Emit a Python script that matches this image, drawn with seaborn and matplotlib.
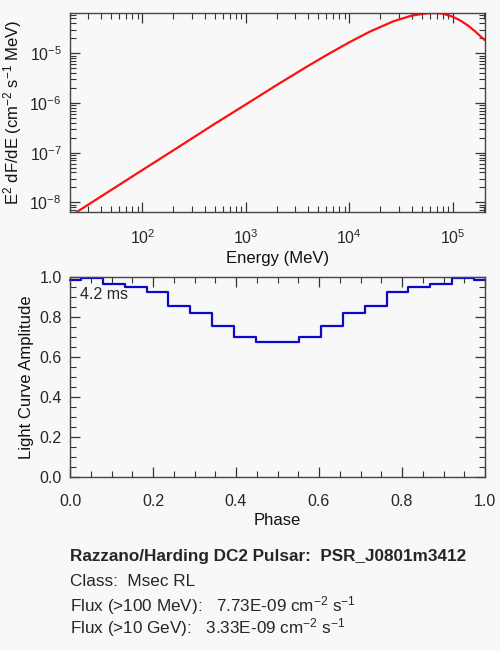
import matplotlib
matplotlib.use("Agg")
import matplotlib.pyplot as plt
import seaborn as sns
import pandas as pd
from matplotlib.ticker import MultipleLocator, LogLocator, NullFormatter

# spectrum
energy = [20, 50, 100, 200, 500, 1000, 2000, 4000, 6000, 1.0e4, 1.58e4,
          2.67e4, 4.0e4, 5.0e4, 6.0e4, 7.0e4, 8.0e4, 1.0e5, 1.17e5, 1.4e5,
          1.64e5, 2.05e5]
e2dfde = [5.25e-9, 1.78e-8, 4.47e-8, 1.12e-7, 3.80e-7, 9.33e-7, 2.31e-6,
          5.56e-6, 9.12e-6, 1.66e-5, 2.72e-5, 4.40e-5, 5.71e-5, 6.14e-5,
          6.42e-5, 6.45e-5, 6.26e-5, 5.43e-5, 4.62e-5, 3.63e-5, 2.77e-5,
          1.82e-5]

# light curve bins
phase = [0.000, 0.053, 0.105, 0.158, 0.211, 0.263, 0.316, 0.368, 0.421, 0.474,
         0.526, 0.579, 0.632, 0.684, 0.737, 0.789, 0.842, 0.895, 0.947, 1.000]
amplitude = [0.987, 0.997, 0.963, 0.950, 0.925, 0.853, 0.820, 0.753, 0.700, 0.673,
             0.673, 0.700, 0.753, 0.820, 0.853, 0.925, 0.950, 0.963, 0.997, 0.987]

pulsar = "PSR_J0801m3412"
pclass = "Msec RL"
flux100 = "7.73E-09"
flux10g = "3.33E-09"
period = "4.2 ms"

bg = "#f8f8f8"
sns.set_style("ticks")
plt.rcParams["font.family"] = ["Liberation Sans", "DejaVu Sans"]
plt.rcParams["mathtext.fontset"] = "custom"
plt.rcParams["mathtext.rm"] = "Liberation Sans"
plt.rcParams["mathtext.it"] = "Liberation Sans"
plt.rcParams["axes.facecolor"] = bg
plt.rcParams["figure.facecolor"] = bg

fs_lab = 12
fs_tick = 11.5
fs_info = 12.3
fig = plt.figure(figsize=(5, 6.5), dpi=100)
ax1 = fig.add_axes([0.14, 0.674, 0.83, 0.306])
ax2 = fig.add_axes([0.14, 0.266, 0.83, 0.3077])

spec = pd.DataFrame({"E": energy, "F": e2dfde})
sns.lineplot(data=spec, x="E", y="F", ax=ax1, color="#ff1010", linewidth=1.6)
ax1.set(xscale="log", yscale="log")
ax1.set_xlim(20, 2.05e5)
ax1.set_ylim(6.45e-9, 6.45e-5)
ax1.set_xlabel("Energy (MeV)", fontsize=fs_lab, labelpad=3)
ax1.set_ylabel("E$^{2}$ dF/dE (cm$^{-2}$ s$^{-1}$ MeV)", fontsize=fs_lab, labelpad=4)
ax1.xaxis.set_major_locator(LogLocator(base=10, numticks=10))
ax1.xaxis.set_minor_locator(LogLocator(base=10, subs=range(2, 10), numticks=20))
ax1.xaxis.set_minor_formatter(NullFormatter())
ax1.yaxis.set_major_locator(LogLocator(base=10, numticks=10))
ax1.yaxis.set_minor_locator(LogLocator(base=10, subs=range(2, 10), numticks=20))
ax1.yaxis.set_minor_formatter(NullFormatter())

lc = pd.DataFrame({"phase": phase, "amp": amplitude})
sns.lineplot(data=lc, x="phase", y="amp", ax=ax2, color="#0a0ac8",
             linewidth=1.6, drawstyle="steps-mid")
ax2.set_xlim(0, 1)
ax2.set_ylim(0, 1.0)
ax2.set_xlabel("Phase", fontsize=fs_lab, labelpad=3)
ax2.set_ylabel("Light Curve Amplitude", fontsize=fs_lab, labelpad=4)
ax2.xaxis.set_major_locator(MultipleLocator(0.2))
ax2.xaxis.set_minor_locator(MultipleLocator(0.05))
ax2.yaxis.set_major_locator(MultipleLocator(0.2))
ax2.yaxis.set_minor_locator(MultipleLocator(0.05))
ax2.xaxis.set_major_formatter(plt.FormatStrFormatter("%.1f"))
ax2.yaxis.set_major_formatter(plt.FormatStrFormatter("%.1f"))
ax2.text(0.024, 0.915, period, transform=ax2.transAxes, fontsize=fs_tick, va="center")

for ax in (ax1, ax2):
    ax.lines[0].set_clip_on(ax is ax1)
    for s in ax.spines.values():
        s.set_visible(True)
        s.set_color("#444444")
        s.set_linewidth(1.0)
    ax.tick_params(which="both", direction="in", top=True, right=True,
                   color="#333333", labelsize=fs_tick)
    ax.tick_params(axis="x", which="both", pad=12)
    ax.tick_params(axis="y", which="both", pad=6)
    ax.tick_params(which="major", length=7, width=0.9)
    ax.tick_params(which="minor", length=4, width=0.8)
    ax.xaxis.label.set_color("#111111")
    ax.yaxis.label.set_color("#111111")

fig.text(0.14, 1 - 556 / 650, "Razzano/Harding DC2 Pulsar:  " + pulsar,
         fontsize=fs_info, fontweight="bold", va="center")
fig.text(0.14, 1 - 582 / 650, "Class:  " + pclass, fontsize=fs_info, va="center")
fig.text(0.14, 1 - 606 / 650,
         "Flux (>100 MeV):   " + flux100 + " cm$^{-2}$ s$^{-1}$",
         fontsize=fs_info, va="center")
fig.text(0.14, 1 - 628 / 650,
         "Flux (>10 GeV):   " + flux10g + " cm$^{-2}$ s$^{-1}$",
         fontsize=fs_info, va="center")

fig.savefig("out.png", dpi=100, facecolor=bg)
